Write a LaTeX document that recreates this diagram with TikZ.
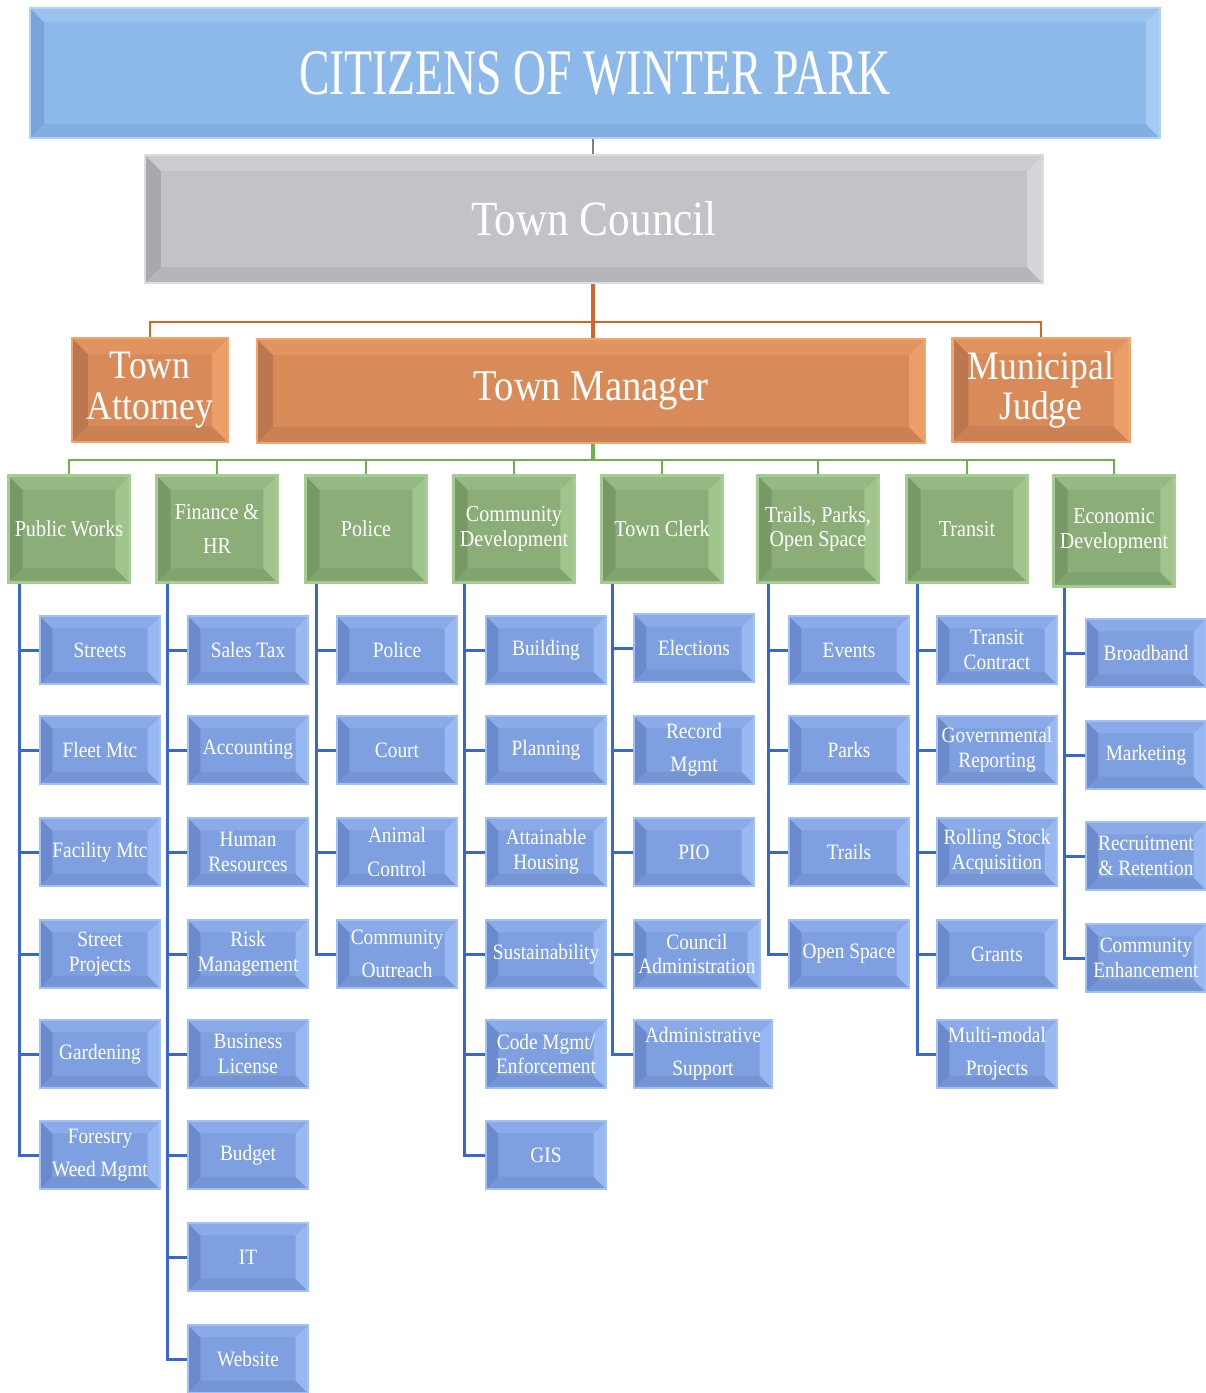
\documentclass[tikz,border=0pt]{standalone}
\usepackage{fontspec}
\setmainfont{Liberation Serif}[FakeStretch=0.88]
\usepackage{tikz}
\usetikzlibrary{positioning}

\definecolor{citface}{HTML}{8DB9EA}
\definecolor{citdark}{HTML}{79A4D9}
\definecolor{citlight}{HTML}{AFD2F6}
\definecolor{cnface}{HTML}{C2C2C7}
\definecolor{cndark}{HTML}{A8A8AE}
\definecolor{cnlight}{HTML}{DCDCE0}
\definecolor{orface}{HTML}{D88A58}
\definecolor{ordark}{HTML}{BC774F}
\definecolor{orlight}{HTML}{F3A56F}
\definecolor{grface}{HTML}{8BAE78}
\definecolor{grdark}{HTML}{779966}
\definecolor{grlight}{HTML}{A7CC93}
\definecolor{blface}{HTML}{7FA0E0}
\definecolor{bldark}{HTML}{6B8ACB}
\definecolor{bllight}{HTML}{A0C0F7}
\definecolor{orline}{HTML}{D4652A}
\definecolor{grline}{HTML}{6DB24A}
\definecolor{blline}{HTML}{3A66D2}

\tikzset{
  bw/.store in=\bw, bw=6pt,
  bevel/.style n args={3}{rectangle, fill=#1, draw=#3, line width=1.2pt,
    text=white, align=center, inner sep=0pt,
    path picture={
      \coordinate (bvA) at (path picture bounding box.north west);
      \coordinate (bvB) at (path picture bounding box.north east);
      \coordinate (bvC) at (path picture bounding box.south east);
      \coordinate (bvD) at (path picture bounding box.south west);
      \coordinate (bvAi) at ([shift={(\bw,-\bw)}]bvA);
      \coordinate (bvBi) at ([shift={(-\bw,-\bw)}]bvB);
      \coordinate (bvCi) at ([shift={(-\bw,\bw)}]bvC);
      \coordinate (bvDi) at ([shift={(\bw,\bw)}]bvD);
      \fill[#2] (bvA) -- (bvAi) -- (bvDi) -- (bvD) -- cycle;
      \fill[#2!50!#1] (bvD) -- (bvDi) -- (bvCi) -- (bvC) -- cycle;
      \fill[#3!75!#1] (bvC) -- (bvCi) -- (bvBi) -- (bvB) -- cycle;
      \fill[#3!35!#1] (bvB) -- (bvBi) -- (bvAi) -- (bvA) -- cycle;
    }}
}

\begin{document}
\begin{tikzpicture}[x=0.02cm, y=-0.02cm]
    \tikzstyle{citbox} = [bevel={citface}{citdark}{citlight}, bw=8pt, minimum width=22.6cm, minimum height=2.6cm]
    \tikzstyle{councilbox} = [bevel={cnface}{cndark}{cnlight}, bw=9pt, minimum width=17.96cm, minimum height=2.56cm, font=\fontsize{28}{30}\selectfont]
    \tikzstyle{leadbox} = [bevel={orface}{ordark}{orlight}, bw=9pt, minimum height=2.08cm, font=\fontsize{23}{23}\selectfont]
    \tikzstyle{deptbox} = [bevel={grface}{grdark}{grlight}, bw=8pt, minimum width=2.42cm, minimum height=2.14cm, font=\fontsize{13}{14}\selectfont]
    \tikzstyle{unitbox} = [bevel={blface}{bldark}{bllight}, bw=7pt, minimum width=2.4cm, minimum height=1.36cm, font=\fontsize{12.5}{14}\selectfont]
    \tikzstyle{kline} = [draw, gray, line width=1pt]
    \tikzstyle{oline} = [draw, orline, line width=1.5pt]
    \tikzstyle{gline} = [draw, grline, line width=1.4pt]
    \tikzstyle{bline} = [draw, blline, line width=1.7pt]

    \useasboundingbox (0,0) rectangle (1206,1393);

    % top of the chart
    \node [citbox] (citizens) at (595,73) {\fontsize{37}{40}\selectfont\scalebox{0.8}[1]{CITIZENS OF WINTER PARK}};
    \node [councilbox] (council) at (594,219) {Town Council};
    \node [leadbox, minimum width=3.12cm] (attorney) at (150,390) {Town\\Attorney};
    \node [leadbox, minimum width=13.36cm, font=\fontsize{25}{25}\selectfont] (manager) at (591,391) {Town Manager};
    \node [leadbox, minimum width=3.54cm] (judge) at (1041,390) {Municipal\\Judge};

    % departments
    \node [deptbox] (pw) at (69,529) {Public Works};
    \node [deptbox] (fin) at (217,529) {Finance \&\\[5pt]HR};
    \node [deptbox] (pol) at (366,529) {Police};
    \node [deptbox] (cd) at (514,529) {Community\\Development};
    \node [deptbox] (tc) at (662,529) {Town Clerk};
    \node [deptbox] (tpo) at (818,529) {Trails, Parks,\\Open Space};
    \node [deptbox] (tr) at (967,529) {Transit};
    \node [deptbox, minimum height=2.22cm] (ed) at (1114,531) {Economic\\Development};

    % public works
    \node [unitbox] (pw1) at (100,650) {Streets};
    \node [unitbox] (pw2) at (100,750) {Fleet Mtc};
    \node [unitbox] (pw3) at (100,852) {Facility Mtc};
    \node [unitbox] (pw4) at (100,954) {Street\\Projects};
    \node [unitbox] (pw5) at (100,1054) {Gardening};
    \node [unitbox] (pw6) at (100,1155) {Forestry\\[5pt]Weed Mgmt};

    % finance
    \node [unitbox] (fin1) at (248,650) {Sales Tax};
    \node [unitbox] (fin2) at (248,750) {Accounting};
    \node [unitbox] (fin3) at (248,852) {Human\\Resources};
    \node [unitbox] (fin4) at (248,954) {Risk\\Management};
    \node [unitbox] (fin5) at (248,1054) {Business\\License};
    \node [unitbox] (fin6) at (248,1155) {Budget};
    \node [unitbox] (fin7) at (248,1257) {IT};
    \node [unitbox] (fin8) at (248,1359) {Website};

    % police
    \node [unitbox] (pol1) at (397,650) {Police};
    \node [unitbox] (pol2) at (397,750) {Court};
    \node [unitbox] (pol3) at (397,852) {Animal\\[5pt]Control};
    \node [unitbox] (pol4) at (397,954) {Community\\[5pt]Outreach};

    % community development
    \node [unitbox] (cd1) at (546,650) {Building};
    \node [unitbox] (cd2) at (546,750) {Planning};
    \node [unitbox] (cd3) at (546,852) {Attainable\\Housing};
    \node [unitbox] (cd4) at (546,954) {Sustainability};
    \node [unitbox] (cd5) at (546,1054) {Code Mgmt/\\Enforcement};
    \node [unitbox] (cd6) at (546,1155) {GIS};

    % town clerk
    \node [unitbox] (tc1) at (694,648) {Elections};
    \node [unitbox] (tc2) at (694,750) {Record\\[5pt]Mgmt};
    \node [unitbox] (tc3) at (694,852) {PIO};
    \node [unitbox, minimum width=2.52cm] (tc4) at (697,954) {Council\\Administration};
    \node [unitbox, minimum width=2.76cm] (tc5) at (703,1054) {Administrative\\[5pt]Support};

    % trails, parks, open space
    \node [unitbox] (tpo1) at (849,650) {Events};
    \node [unitbox] (tpo2) at (849,750) {Parks};
    \node [unitbox] (tpo3) at (849,852) {Trails};
    \node [unitbox] (tpo4) at (849,954) {Open Space};

    % transit
    \node [unitbox] (tr1) at (997,650) {Transit\\Contract};
    \node [unitbox] (tr2) at (997,750) {Governmental\\Reporting};
    \node [unitbox] (tr3) at (997,852) {Rolling Stock\\Acquisition};
    \node [unitbox] (tr4) at (997,954) {Grants};
    \node [unitbox] (tr5) at (997,1054) {Multi-modal\\[5pt]Projects};

    % economic development
    \node [unitbox] (ed1) at (1146,653) {Broadband};
    \node [unitbox] (ed2) at (1146,755) {Marketing};
    \node [unitbox] (ed3) at (1146,856) {Recruitment\\\& Retention};
    \node [unitbox] (ed4) at (1146,958) {Community\\Enhancement};

    % connectors
    \coordinate (obar) at (593,322);
    \coordinate (gbar) at (593,460);
    \path [kline] (citizens.south -| obar) -- (council.north -| obar);
    \path [oline, line width=2.4pt] (council.south -| obar) -- (manager.north -| obar);
    \path [oline] (attorney.north) -- (attorney.north |- obar) -- (judge.north |- obar) -- (judge.north);
    \path [gline, line width=2pt] (manager.south -| gbar) -- (gbar);
    \path [gline] (pw.north) -- (pw.north |- gbar) -- (ed.north |- gbar) -- (ed.north);
    \foreach \d in {fin,pol,cd,tc,tpo,tr}
        \path [gline] (\d.north) -- (\d.north |- gbar);

    \foreach \u in {pw1,pw2,pw3,pw4,pw5,pw6}
        \path [bline] ([xshift=0.24cm]pw.south west) |- (\u.west);
    \foreach \u in {fin1,fin2,fin3,fin4,fin5,fin6,fin7,fin8}
        \path [bline] ([xshift=0.24cm]fin.south west) |- (\u.west);
    \foreach \u in {pol1,pol2,pol3,pol4}
        \path [bline] ([xshift=0.24cm]pol.south west) |- (\u.west);
    \foreach \u in {cd1,cd2,cd3,cd4,cd5,cd6}
        \path [bline] ([xshift=0.24cm]cd.south west) |- (\u.west);
    \foreach \u in {tc1,tc2,tc3,tc4,tc5}
        \path [bline] ([xshift=0.24cm]tc.south west) |- (\u.west);
    \foreach \u in {tpo1,tpo2,tpo3,tpo4}
        \path [bline] ([xshift=0.24cm]tpo.south west) |- (\u.west);
    \foreach \u in {tr1,tr2,tr3,tr4,tr5}
        \path [bline] ([xshift=0.24cm]tr.south west) |- (\u.west);
    \foreach \u in {ed1,ed2,ed3,ed4}
        \path [bline] ([xshift=0.24cm]ed.south west) |- (\u.west);
\end{tikzpicture}
\end{document}
